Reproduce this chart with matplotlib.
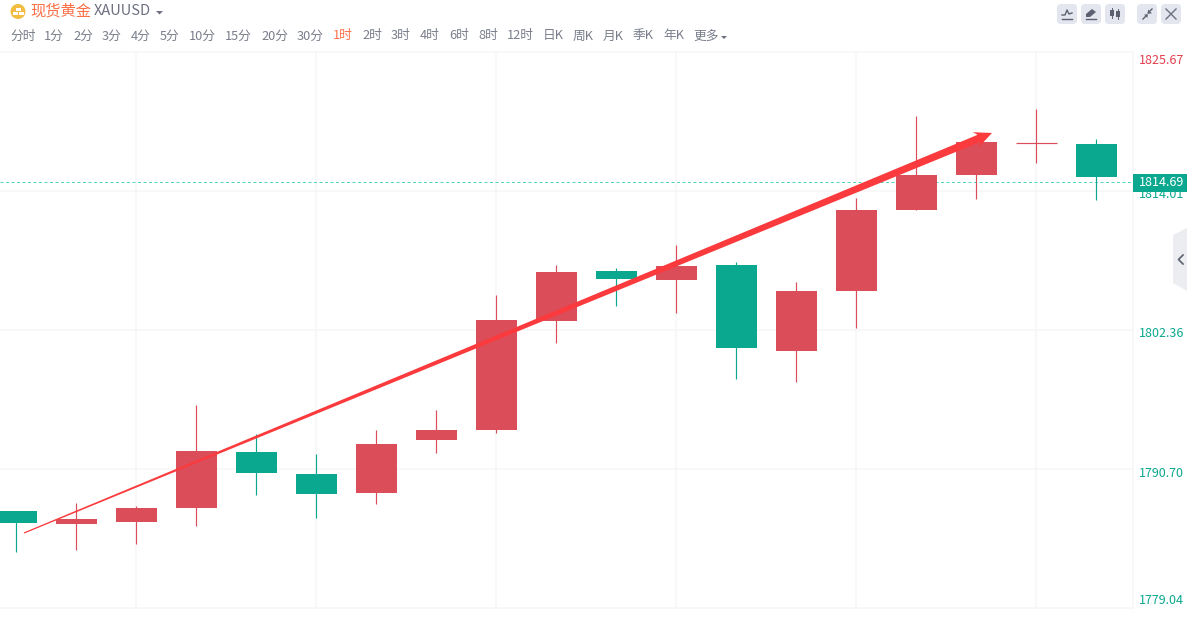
import matplotlib
matplotlib.use("Agg")
import matplotlib.pyplot as plt
from matplotlib.patches import Polygon, Rectangle, FancyBboxPatch, Circle
from matplotlib.transforms import Affine2D
import numpy as np

plt.rcParams['font.family'] = ['Noto Sans CJK SC', 'DejaVu Sans']

# ---- data ----
opens  = [1787.18, 1786.09, 1786.25, 1787.43, 1792.12, 1790.28, 1788.69, 1793.13, 1793.97, 1803.11, 1807.30, 1806.55, 1807.81, 1800.59, 1805.63, 1812.42, 1815.35, 1818.04, 1817.95]
closes = [1786.17, 1786.50, 1787.43, 1792.21, 1790.36, 1788.60, 1792.79, 1793.97, 1803.19, 1807.22, 1806.63, 1807.72, 1800.85, 1805.63, 1812.42, 1815.35, 1818.12, 1818.04, 1815.19]
highs  = [1787.18, 1787.85, 1787.59, 1796.07, 1793.63, 1791.96, 1793.97, 1795.65, 1805.29, 1807.81, 1807.55, 1809.48, 1808.06, 1806.38, 1813.42, 1820.30, 1818.12, 1820.89, 1818.37]
lows   = [1783.74, 1783.90, 1784.41, 1785.92, 1788.52, 1786.59, 1787.76, 1792.04, 1793.72, 1801.27, 1804.37, 1803.78, 1798.25, 1797.99, 1802.52, 1812.42, 1813.34, 1816.36, 1813.26]
is_up  = [False, True, True, True, False, False, True, True, True, True, False, True, False, True, True, True, True, True, False]
y_ticks = [1825.67, 1814.01, 1802.36, 1790.70, 1779.04]
y_tick_colors = ['#e2404e', '#0aa88e', '#0aa88e', '#0aa88e', '#0aa88e']
y_label_offsets = [9, 3, 4, 5, -7]
last_price = 1814.69
grid_indices = [2, 5, 8, 11, 14, 17]
trend_start = (0.133, 1785.33)
trend_end = (16.267, 1818.88)
tabs = ['分时', '1分', '2分', '3分', '4分', '5分', '10分', '15分', '20分', '30分', '1时', '2时', '3时', '4时', '6时', '8时', '12时', '日K', '周K', '月K', '季K', '年K', '更多']
tab_x = [10, 44, 73, 102, 131, 160, 189, 225, 261, 297, 333, 362, 391, 420, 449, 478, 507, 543, 573, 603, 633, 663, 693]

RED = '#dc4d5a'
GREEN = '#0aa88e'
GRID = '#f6f6f8'
W, H = 1187, 627
fig = plt.figure(figsize=(W / 100, H / 100), dpi=100, facecolor='white')

# price chart, placed by pixel box x 0..1133, y 52..608
ax = fig.add_axes([0, (H - 608) / H, 1133 / W, 556 / H])
ax.set_xlim(-16 / 60, (1133 - 16) / 60)
ax.set_ylim(1779.04, 1825.67)
for s in ax.spines.values():
    s.set_visible(False)
ax.set_xticks([]); ax.set_yticks([])
ax.patch.set_alpha(0)
for v in y_ticks:
    ax.axhline(v, color=GRID, lw=1.1, zorder=0, clip_on=False)
for g in grid_indices:
    ax.axvline(g, color=GRID, lw=1.1, zorder=0)
ax.axvline((1133 - 16) / 60, color=GRID, lw=1.1, zorder=0, clip_on=False)
ax.plot([0, 1], [last_price, last_price], color='#4fd6bd', lw=0.72, ls=(0, (3, 2.5)), zorder=1,
        transform=ax.get_yaxis_transform() + Affine2D().translate(0, 1))

for i, (o, c, h, l, up) in enumerate(zip(opens, closes, highs, lows, is_up)):
    col = RED if up else GREEN
    ax.plot([i, i], [l, h], color=col, lw=0.85, solid_capstyle='butt', zorder=2)
    lo, hi = min(o, c), max(o, c)
    if hi - lo < 0.12:
        ax.plot([i - 0.333, i + 0.35], [o, o], color=col, lw=0.85, solid_capstyle='butt', zorder=2)
    else:
        ax.add_patch(Rectangle((i - 0.333, lo), 0.683, hi - lo, fc=col, ec='none', zorder=2))
ax.set_xlim(-16 / 60, (1133 - 16) / 60)
ax.set_ylim(1779.04, 1825.67)

# overlay in pixel coordinates for the app chrome
ov = fig.add_axes([0, 0, 1, 1])
ov.set_xlim(0, W); ov.set_ylim(H, 0); ov.axis('off'); ov.patch.set_alpha(0)

# trend arrow, endpoints taken from the price axes
fig.canvas.draw()
def to_px(pt):
    x, y = ax.transData.transform(pt)
    return np.array([x, H - y])
p0, p1 = to_px(trend_start), to_px(trend_end)
u = (p1 - p0) / np.linalg.norm(p1 - p0)
n = np.array([-u[1], u[0]])
neck = p1 - 14 * u
barb = p1 - 17.5 * u
ov.add_patch(Polygon([p0 - n * 0.6, neck - n * 3.8, barb - n * 8, p1, barb + n * 8, neck + n * 3.8, p0 + n * 0.6],
                     closed=True, fc='#fb3a3d', ec='none', zorder=5))

# y labels
for v, c, off in zip(y_ticks, y_tick_colors, y_label_offsets):
    yy = (1825.67 - v) / (1825.67 - 1779.04) * 556 + 52
    ov.text(1139, yy + off, f'{v:.2f}', color=c, fontsize=9, va='center', ha='left', zorder=6)
yy = (1825.67 - last_price) / (1825.67 - 1779.04) * 556 + 52
ov.add_patch(Rectangle((1133, yy - 9), 54, 18, fc=GREEN, ec='none', zorder=7))
ov.text(1139, yy, f'{last_price:.2f}', color='white', fontsize=9, va='center', ha='left', zorder=8, fontweight='medium')

# header
ov.add_patch(Circle((18, 11.5), 7.5, fc='#f2bd42', ec='none'))
for bx, by in [(15.5, 8), (13, 12), (18.5, 12)]:
    ov.add_patch(Rectangle((bx, by), 5, 3, fc='white', ec='none'))
ov.text(30, 11, '现货黄金', color='#fb6f47', fontsize=11, va='center', ha='left')
ov.text(94, 11, 'XAUUSD', color='#6c7080', fontsize=10.5, va='center', ha='left')
ov.add_patch(Polygon([(156, 11), (163, 11), (159.5, 14.5)], fc='#6c7080', ec='none'))
for t, x in zip(tabs, tab_x):
    ov.text(x, 36, t, color='#fb6f47' if t == '1时' else '#7a7e8c', fontsize=9.2, va='center', ha='left')
ov.add_patch(Polygon([(721, 36), (727, 36), (724, 39)], fc='#6c7080', ec='none'))

# toolbar buttons
for x0 in [1057, 1081, 1105, 1137, 1161]:
    ov.add_patch(FancyBboxPatch((x0 + 3, 7), 14, 14, boxstyle='round,pad=3,rounding_size=4', fc='#e3e6ee', ec='none'))
ic = '#5c6070'
ov.plot([1062, 1072], [18.5, 18.5], color=ic, lw=1)
ov.plot([1062, 1065, 1067, 1069, 1072], [15, 15, 10, 14, 13], color=ic, lw=1)
ov.add_patch(Polygon([(1086, 17), (1086, 14), (1092, 9), (1096, 12), (1090, 17)], fc=ic, ec='none'))
ov.plot([1086, 1096], [18.8, 18.8], color=ic, lw=1)
for cx, t, b in [(1112, 10, 16), (1118, 11, 17)]:
    ov.add_patch(Rectangle((cx - 2, t), 4, b - t, fc=ic, ec='none'))
    ov.plot([cx, cx], [t - 2, b + 2], color=ic, lw=0.7)
ov.plot([1143, 1147], [19, 15], color=ic, lw=1)
ov.plot([1148, 1152], [13, 9], color=ic, lw=1)
ov.add_patch(Polygon([(1147.5, 14.5), (1147.5, 18), (1144, 14.5)], fc=ic, ec='none'))
ov.add_patch(Polygon([(1148, 13.5), (1152, 13.5), (1148, 9.5)], fc=ic, ec='none'))
ov.plot([1166, 1176], [9, 19], color='#6c7080', lw=1)
ov.plot([1176, 1166], [9, 19], color='#6c7080', lw=1)

# side handle
ov.add_patch(Polygon([(1173, 235), (1187, 228), (1187, 291), (1173, 283)], fc='#ecedf0', ec='none', zorder=6))
ov.plot([1183, 1178.5, 1183], [255, 259.5, 264], color='#5c6070', lw=1.2, zorder=7)

fig.savefig('out.png', dpi=100, facecolor='white')
